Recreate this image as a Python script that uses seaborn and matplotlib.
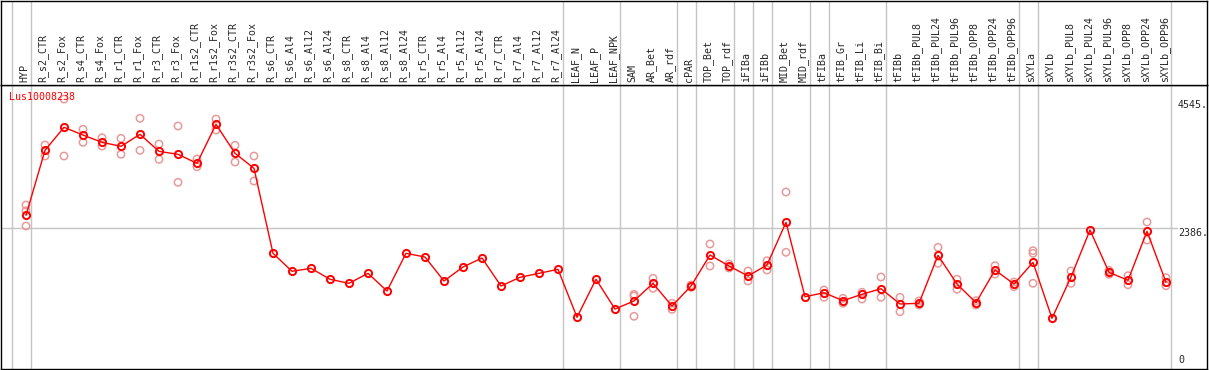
import matplotlib
matplotlib.use("Agg")
import matplotlib.pyplot as plt
import matplotlib.transforms as mtransforms
import pandas as pd
import seaborn as sns

# %%
samples = [
    "HYP",
    "R_s2_CTR", "R_s2_Fox", "R_s4_CTR", "R_s4_Fox", "R_r1_CTR", "R_r1_Fox",
    "R_r3_CTR", "R_r3_Fox", "R_r1s2_CTR", "R_r1s2_Fox", "R_r3s2_CTR", "R_r3s2_Fox",
    "R_s6_CTR", "R_s6_Al4", "R_s6_Al12", "R_s6_Al24", "R_s8_CTR", "R_s8_Al4",
    "R_s8_Al12", "R_s8_Al24", "R_r5_CTR", "R_r5_Al4", "R_r5_Al12", "R_r5_Al24",
    "R_r7_CTR", "R_r7_Al4", "R_r7_Al12", "R_r7_Al24",
    "LEAF_N", "LEAF_P", "LEAF_NPK",
    "SAM", "AR_Bet", "AR_rdf",
    "cPAR",
    "TOP_Bet", "TOP_rdf",
    "iFIBa",
    "iFIBb",
    "MID_Bet", "MID_rdf",
    "tFIBa",
    "tFIB_Gr", "tFIB_Li", "tFIB_Bi",
    "tFIBb", "tFIBb_PUL8", "tFIBb_PUL24", "tFIBb_PUL96", "tFIBb_OPP8",
    "tFIBb_OPP24", "tFIBb_OPP96",
    "sXYLa",
    "sXYLb", "sXYLb_PUL8", "sXYLb_PUL24", "sXYLb_PUL96", "sXYLb_OPP8",
    "sXYLb_OPP24", "sXYLb_OPP96",
]
group_sizes = [1, 28, 3, 3, 1, 2, 1, 1, 2, 1, 3, 7, 1, 7]

means = [
    2601,
    3700, 4090, 3959, 3836, 3768, 3971, 3683, 3633, 3480, 4140, 3650, 3396,
    1958, 1653, 1704, 1518, 1450, 1619, 1320, 1958, 1895, 1489, 1726, 1878,
    1404, 1552, 1619, 1687,
    875, 1518, 1015,
    1151, 1450, 1066,
    1404,
    1929, 1743,
    1574,
    1760,
    2482, 1223,
    1291,
    1156, 1264, 1359,
    1100, 1112, 1924, 1438, 1122, 1675, 1438,
    1805,
    858, 1557, 2352, 1636, 1501, 2330, 1467,
]

rep_samples = [
    "HYP", "HYP", "HYP",
    "R_s2_CTR", "R_s2_CTR", "R_s2_Fox", "R_s2_Fox", "R_s4_CTR", "R_s4_CTR",
    "R_s4_Fox", "R_s4_Fox", "R_r1_CTR", "R_r1_CTR", "R_r1_Fox", "R_r1_Fox",
    "R_r3_CTR", "R_r3_CTR", "R_r3_Fox", "R_r3_Fox", "R_r1s2_CTR", "R_r1s2_CTR",
    "R_r1s2_Fox", "R_r1s2_Fox", "R_r3s2_CTR", "R_r3s2_CTR", "R_r3s2_Fox", "R_r3s2_Fox",
    "SAM", "SAM", "SAM", "AR_Bet", "AR_Bet", "AR_rdf", "AR_rdf",
    "cPAR", "cPAR", "TOP_Bet", "TOP_Bet", "TOP_rdf", "TOP_rdf",
    "iFIBa", "iFIBa", "iFIBb", "iFIBb", "MID_Bet", "MID_Bet",
    "tFIBa", "tFIBa", "tFIB_Gr", "tFIB_Gr", "tFIB_Li", "tFIB_Li", "tFIB_Bi", "tFIB_Bi",
    "tFIBb", "tFIBb", "tFIBb_PUL8", "tFIBb_PUL8", "tFIBb_PUL24", "tFIBb_PUL24",
    "tFIBb_PUL96", "tFIBb_PUL96", "tFIBb_OPP8", "tFIBb_OPP8",
    "tFIBb_OPP24", "tFIBb_OPP24", "tFIBb_OPP96", "tFIBb_OPP96",
    "sXYLa", "sXYLa", "sXYLa",
    "sXYLb_PUL8", "sXYLb_PUL8", "sXYLb_PUL96", "sXYLb_PUL96",
    "sXYLb_OPP8", "sXYLb_OPP8", "sXYLb_OPP24", "sXYLb_OPP24",
    "sXYLb_OPP96", "sXYLb_OPP96",
]
rep_values = [
    2775, 2678, 2420,
    3790, 3604, 4568, 3604, 4056, 3836,
    3914, 3773, 3903, 3633, 4242, 3700,
    3807, 3548, 4112, 3159, 3553, 3423,
    4230, 4044, 3785, 3502, 3604, 3181,
    1264, 1235, 892, 1535, 1365, 1112, 1010,
    1421, 1382, 2115, 1743, 1777, 1709,
    1658, 1489, 1832, 1675, 2995, 1975,
    1337, 1213, 1196, 1112, 1298, 1184, 1557, 1213,
    1213, 970, 1151, 1083, 2059, 1788,
    1518, 1349, 1156, 1083,
    1748, 1607, 1472, 1393,
    2002, 1958, 1450,
    1658, 1450, 1670, 1602,
    1579, 1426, 2487, 2183,
    1545, 1409,
]

gene = "Lus10008238"
y_marks = [0, 2386, 4545]

# %%
W, H = 1209, 370
px = 19  # pixels per sample column
red = "#ff0000"
pink = "#e89a9a"
grid = "#c4c4c4"

sns.set_style("white")
plt.rcParams["font.family"] = ["DejaVu Sans Mono"]

df_mean = pd.DataFrame({"pos": range(len(samples)), "value": means})
df_rep = pd.DataFrame({"pos": [samples.index(s) for s in rep_samples], "value": rep_values})

fig = plt.figure(figsize=(W / 100, H / 100), dpi=100)
ax = fig.add_axes([1 / W, 1 / H, 1206 / W, 284 / H])
hax = fig.add_axes([1 / W, 285 / H, 1206 / W, 84 / H], sharex=ax)

xmin = -25 / px
ax.set_xlim(xmin, xmin + 1206 / px)
ax.set_ylim(0, 284 * 2386 / 141)

# group separators
bounds = [-1]
n = 0
for g in group_sizes:
    n += g
    bounds.append(n - 1)
for b in bounds:
    ax.axvline(b + 0.24, color=grid, lw=1, zorder=0)
    hax.axvline(b + 0.24, color=grid, lw=1, zorder=0)
ax.axhline(y_marks[1], xmax=1176 / 1206, color=grid, lw=1, zorder=0)

sns.scatterplot(data=df_rep, x="pos", y="value", ax=ax, marker="o", s=28,
                facecolors="none", edgecolor=pink, linewidth=1.1, zorder=2)
sns.lineplot(data=df_mean, x="pos", y="value", ax=ax, color=red, lw=1,
             marker="o", markersize=5.2, markerfacecolor="none",
             markeredgecolor=red, markeredgewidth=1.4, zorder=3)

ax.text(8 / 1206, 1 - 11.7 / 284, gene, transform=ax.transAxes, color=red,
        fontsize=7.2, ha="left", va="center")

lx = 1177 / 1206
for v in y_marks:
    lab = "0" if v == 0 else f"{v}."
    ax.text(lx, v + (60 if v == 0 else 0), lab, transform=mtransforms.blended_transform_factory(ax.transAxes, ax.transData),
            fontsize=7.2, ha="left", va="bottom" if v == 0 else "top")

trans = mtransforms.blended_transform_factory(hax.transData, hax.transAxes)
for i, s in enumerate(samples):
    hax.text(i - 0.1, 0.03, s, transform=trans, rotation=90, fontsize=7.2,
             ha="center", va="bottom")

for a in (ax, hax):
    a.set_xticks([])
    a.set_yticks([])
    a.set_xlabel("")
    a.set_ylabel("")
    for sp in a.spines.values():
        sp.set_color("black")
        sp.set_linewidth(1.0)

fig.savefig("out.png", dpi=100)
